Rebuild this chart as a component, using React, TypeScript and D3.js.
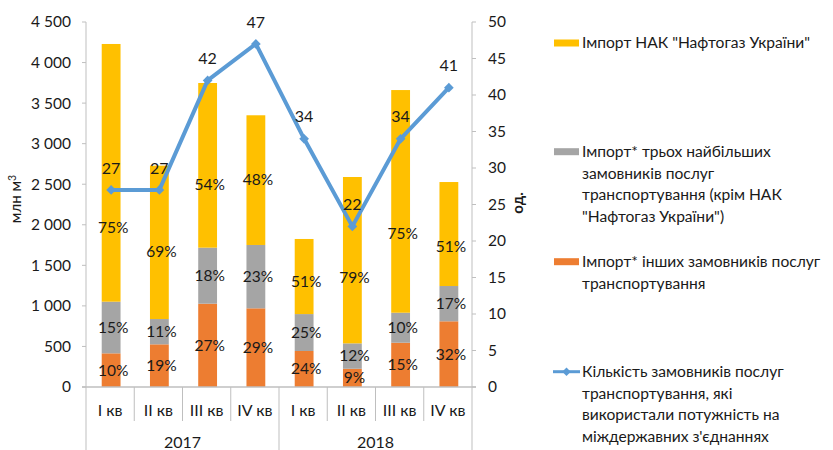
import React from 'react';
import * as d3 from 'd3';

// ---- data ----
const quarters = ['I кв', 'II кв', 'III кв', 'IV кв', 'I кв', 'II кв', 'III кв', 'IV кв'];
const years = ['2017', '2018'];
const importNaftogaz = [3177, 1891, 2030, 1599, 926, 2051, 2745, 1282];
const importTop3 = [637, 312, 691, 781, 455, 313, 370, 435];
const importOthers = [415, 526, 1027, 970, 444, 225, 546, 810];
const customersCount = [27, 27, 42, 47, 34, 22, 34, 41];
const leftTicks = [0, 500, 1000, 1500, 2000, 2500, 3000, 3500, 4000, 4500];
const rightTicks = [0, 5, 10, 15, 20, 25, 30, 35, 40, 45, 50];
const legendItems = [
  ['Імпорт НАК "Нафтогаз України"'],
  ['Імпорт* трьох найбільших', 'замовників послуг', 'транспортування (крім НАК', '"Нафтогаз України")'],
  ['Імпорт* інших замовників послуг', 'транспортування'],
  ['Кількість замовників послуг', 'транспортування, які', 'використали потужність на', 'міждержавних з\'єднаннях'],
];

// ---- layout (not data) ----
const W = 833, H = 450;
const plotL = 86, plotR = 472, plotT = 22, plotB = 387;
const yellowLabelNudge = [55, 9, 19, -1, 5, 17, 32, 13];
const colors = { yellow: '#FFC000', gray: '#A5A5A5', orange: '#ED7D31', blue: '#5B9BD5', axis: '#BFBFBF', text: '#1a1a1a' };
const font = 'Lato, Carlito, Calibri, "Open Sans", sans-serif';

function fmt(v: number) {
  return d3.format(',')(v).replace(/,/g, '\u00a0');
}

export default function App() {
  const x = d3.scaleBand<number>().domain(d3.range(quarters.length)).range([plotL, plotR]).padding(0);
  const y = d3.scaleLinear().domain([0, 4500]).range([plotB, plotT]);
  const y2 = d3.scaleLinear().domain([0, 50]).range([plotB, plotT]);
  const barW = x.bandwidth() * 0.39;
  const cx = (i: number) => (x(i) as number) + x.bandwidth() / 2 + 1;

  const stacks = quarters.map((_, i) => {
    const o = importOthers[i], g = importTop3[i], n = importNaftogaz[i];
    const total = o + g + n;
    return [
      { key: 'orange', y0: 0, y1: o, pct: Math.round((o / total) * 100), nudge: 0 },
      { key: 'gray', y0: o, y1: o + g, pct: Math.round((g / total) * 100), nudge: 0 },
      { key: 'yellow', y0: o + g, y1: total, pct: Math.round((n / total) * 100), nudge: yellowLabelNudge[i] },
    ];
  });

  const line = d3.line<number>().x((_, i) => cx(i)).y((d) => y2(d));
  const diamond = d3.symbol().type(d3.symbolDiamond2).size(60)();
  const legendDiamond = d3.symbol().type(d3.symbolDiamond2).size(45)();

  const legendStarts = [43, 151.7, 261.7, 371.7];
  const lh = 21.6;

  return (
    <div style={{ position: 'fixed', left: 0, top: 0 }}>
      <svg width={W} height={H} style={{ display: 'block', background: '#fff' }} fontFamily={font}>
        {/* bars */}
        {stacks.map((segs, i) =>
          segs.map((s) => (
            <rect key={i + s.key} x={cx(i) - barW / 2} width={barW} y={y(s.y1)} height={y(s.y0) - y(s.y1)}
              fill={(colors as any)[s.key]} />
          ))
        )}
        {/* axes */}
        <line x1={plotL} x2={plotL} y1={plotT} y2={H} stroke={colors.axis} strokeWidth={1} />
        <line x1={plotR} x2={plotR} y1={plotT} y2={H} stroke={colors.axis} strokeWidth={1} />
        <line x1={plotL - 4} x2={plotR + 4} y1={plotB} y2={plotB} stroke={colors.axis} strokeWidth={1.3} />
        {leftTicks.map((t) => (
          <g key={'l' + t}>
            <line x1={plotL - 4} x2={plotL} y1={y(t)} y2={y(t)} stroke={colors.axis} />
            <text x={71} y={y(t)} dy="0.35em" textAnchor="end" fontSize={15.5} fill={colors.text}>{fmt(t)}</text>
          </g>
        ))}
        {rightTicks.map((t) => (
          <g key={'r' + t}>
            <line x1={plotR} x2={plotR + 4} y1={y2(t)} y2={y2(t)} stroke={colors.axis} />
            <text x={488} y={y2(t)} dy="0.35em" textAnchor="start" fontSize={15.5} fill={colors.text}>{t}</text>
          </g>
        ))}
        {/* category separators */}
        {d3.range(1, quarters.length).map((i) => (
          <line key={'s' + i} x1={x(i) as number} x2={x(i) as number} y1={plotB} y2={i % 4 === 0 ? H : 421}
            stroke={colors.axis} />
        ))}
        {quarters.map((q, i) => (
          <text key={'q' + i} x={cx(i) - 1} y={410} dy="0.35em" textAnchor="middle" fontSize={16} fill={colors.text}>{q}</text>
        ))}
        {years.map((yr, j) => (
          <text key={'y' + j} x={((x(j * 4) as number) + (x(j * 4 + 3) as number) + x.bandwidth()) / 2} y={442}
            dy="0.35em" textAnchor="middle" fontSize={16} fill={colors.text}>{yr}</text>
        ))}
        {/* axis titles */}
        <text transform={`translate(16,199) rotate(-90)`} textAnchor="middle" dy="0.35em" fontSize={15} fill={colors.text}>
          млн м<tspan dy="-5" fontSize={10.5}>3</tspan>
        </text>
        <text transform={`translate(518,203) rotate(-90)`} textAnchor="middle" dy="0.35em" fontSize={15} fontWeight="bold" fill={colors.text}>од.</text>
        {/* segment labels */}
        {stacks.map((segs, i) =>
          segs.map((s) => (
            <text key={'p' + i + s.key} x={cx(i) + 2} y={(y(s.y0) + y(s.y1)) / 2 + s.nudge} dy="0.35em"
              textAnchor="middle" fontSize={15.5} fill={colors.text}>{s.pct}%</text>
          ))
        )}
        {/* line */}
        <path d={line(customersCount) || ''} fill="none" stroke={colors.blue} strokeWidth={4} strokeLinejoin="round" />
        {customersCount.map((v, i) => (
          <g key={'m' + i}>
            <path d={diamond || ''} transform={`translate(${cx(i)},${y2(v)})`} fill={colors.blue} />
            <text x={cx(i)} y={y2(v) - 22} dy="0.35em" textAnchor="middle" fontSize={16} fill={colors.text}>{v}</text>
          </g>
        ))}
        {/* legend */}
        {legendItems.map((lines, k) => {
          const yy = legendStarts[k];
          return (
            <g key={'lg' + k}>
              {k < 3 ? (
                <rect x={554} y={yy - 3.5} width={25} height={7}
                  fill={[colors.yellow, colors.gray, colors.orange][k]} />
              ) : (
                <g>
                  <line x1={553} x2={580} y1={yy} y2={yy} stroke={colors.blue} strokeWidth={3} />
                  <path d={legendDiamond || ''} transform={`translate(566.5,${yy})`} fill={colors.blue} />
                </g>
              )}
              {lines.map((t, li) => (
                <text key={li} x={582} y={yy + li * lh} dy="0.35em" fontSize={15.6} fill={colors.text}>{t}</text>
              ))}
            </g>
          );
        })}
      </svg>
    </div>
  );
}
